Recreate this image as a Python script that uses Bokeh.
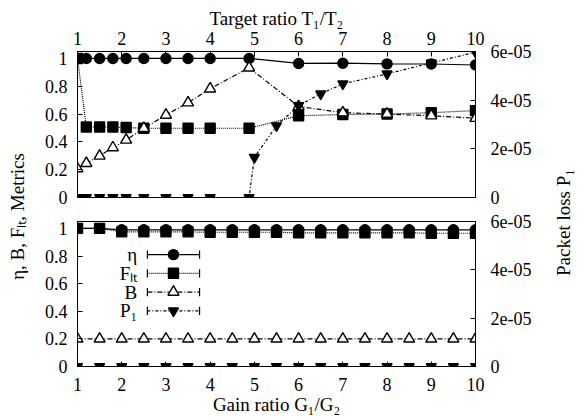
from math import pi
from bokeh.plotting import figure
from bokeh.models import Range1d, LinearAxis, FixedTicker, Label
from bokeh.layouts import row, column
from bokeh.embed import file_html
from bokeh.resources import INLINE

FONT = "Liberation Serif"
FS_TICK = "18px"
FS_LAB = "19px"

# ---------------- data ----------------
x_ticks = [1, 2, 3, 4, 5, 6, 7, 8, 9, 10]
y_ticks = [0, 0.2, 0.4, 0.6, 0.8, 1.0]
p_ticks = [0, 2e-5, 4e-5, 6e-5]

# top panel (Target ratio T1/T2)
top_x = [1, 1.2, 1.5, 1.8, 2.1, 2.5, 3, 3.5, 4, 4.88, 6, 7, 8, 9, 10]
top_eta = [1.0, 1.0, 1.0, 1.0, 1.0, 1.0, 1.0, 1.0, 1.0, 1.0, 0.964, 0.966, 0.961, 0.960, 0.953]
top_flt = [1.0, 0.507, 0.507, 0.507, 0.503, 0.498, 0.498, 0.498, 0.498, 0.498, 0.588, 0.597, 0.600, 0.610, 0.625]
top_b = [0.208, 0.246, 0.299, 0.359, 0.414, 0.498, 0.593, 0.682, 0.782, 0.933, 0.655, 0.610, 0.600, 0.588, 0.570]
top_p_x = [1, 1.2, 1.5, 1.8, 2.1, 2.5, 3, 3.5, 4, 4.88, 5, 5.5, 6, 6.5, 7, 8, 9, 10]
top_p = [0, 0, 0, 0, 0, 0, 0, 0, 0, 0, 1.65e-5, 2.95e-5, 3.78e-5, 4.26e-5, 4.67e-5, 5.08e-5, 5.53e-5, 5.97e-5]

# bottom panel (Gain ratio G1/G2)
bot_x = [1, 1.5, 2, 2.5, 3, 3.5, 4, 4.5, 5, 5.5, 6, 6.5, 7, 7.5, 8, 8.5, 9, 9.5, 10]
bot_eta = [1.0, 1.0, 0.99, 0.99, 0.99, 0.99, 0.99, 0.99, 0.99, 0.99, 0.99, 0.99, 0.99, 0.99, 0.99, 0.99, 0.99, 0.99, 0.99]
bot_flt = [1.0, 1.0, 0.975, 0.975, 0.975, 0.975, 0.972, 0.972, 0.972, 0.972, 0.968, 0.968, 0.968, 0.968, 0.968, 0.968, 0.965, 0.965, 0.965]
bot_b = [0.2] * 19
bot_p = [0.0] * 19

series_names = ["η", "Fₗₜ", "B", "P₁"]

left_labels = {0: "0", 0.2: "0.2", 0.4: "0.4", 0.6: "0.6", 0.8: "0.8", 1.0: "1"}
right_labels = {0: "0", 2e-5: "2e-05", 4e-5: "4e-05", 6e-5: "6e-05"}

STY = {
    "eta": dict(dash="solid", marker="circle", size=10, fill="black"),
    "flt": dict(dash="1 1", marker="square", size=10, fill="black"),
    "b": dict(dash="5 2 1 2", marker="triangle", size=11, fill="white"),
    "p": dict(dash="3 2 1 2", marker="inverted_triangle", size=10, fill="black"),
}


def style_axis(ax, ticks, overrides, standoff):
    ax.ticker = FixedTicker(ticks=ticks)
    if overrides:
        ax.major_label_overrides = overrides
    ax.major_tick_in = 5
    ax.major_tick_out = 0
    ax.minor_tick_in = 0
    ax.minor_tick_out = 0
    ax.major_label_standoff = standoff
    ax.major_label_text_font = FONT
    ax.major_label_text_font_size = FS_TICK
    ax.major_label_text_font_style = "normal"
    ax.major_label_text_color = "black"
    ax.axis_line_color = "black"
    ax.major_tick_line_color = "black"
    ax.axis_label_text_font = FONT
    ax.axis_label_text_font_size = FS_LAB
    ax.axis_label_text_font_style = "normal"
    ax.axis_label_text_color = "black"


def panel(frame_h, b_top, b_bottom, xloc, xlabel, xstand):
    p = figure(frame_width=398, frame_height=frame_h,
               x_range=Range1d(1, 10), y_range=Range1d(0, 1.05),
               output_backend="svg", toolbar_location=None,
               x_axis_location=xloc,
               min_border_left=47, min_border_right=70,
               min_border_top=b_top, min_border_bottom=b_bottom,
               background_fill_color="white", border_fill_color="white",
               outline_line_color="black", outline_line_width=1)
    p.extra_y_ranges = {"p": Range1d(0, 6e-5)}
    p.grid.visible = False
    style_axis(p.yaxis[0], y_ticks, left_labels, 10)
    style_axis(p.xaxis[0], x_ticks, None, xstand)
    p.xaxis[0].axis_label = xlabel
    p.xaxis[0].axis_label_standoff = 0
    r = LinearAxis(y_range_name="p")
    style_axis(r, p_ticks, right_labels, 15)
    p.add_layout(r, "right")
    return p


def draw(p, x, y, key, rname="default"):
    s = STY[key]
    p.line(x, y, line_color="black", line_width=1.2, line_dash=s["dash"], y_range_name=rname)
    p.scatter(x, y, marker=s["marker"], size=s["size"], fill_color=s["fill"],
              line_color="black", line_width=1.4, y_range_name=rname)


top = panel(146, 51, 12, "above", "Target ratio T₁/T₂", 7)
draw(top, top_x, top_eta, "eta")
draw(top, top_x, top_flt, "flt")
draw(top, top_x, top_b, "b")
draw(top, top_p_x, top_p, "p", "p")

bot = panel(145, 12, 54, "below", "Gain ratio G₁/G₂", 11)
draw(bot, bot_x, bot_eta, "eta")
draw(bot, bot_x, bot_flt, "flt")
draw(bot, bot_x, bot_b, "b")
draw(bot, bot_x, bot_p, "p")

# legend (gnuplot style: label right-aligned, then sample with caps)
leg_keys = ["eta", "flt", "b", "p"]
leg_y = [0.81, 0.675, 0.539, 0.403]
lx0, lx1, lxm, ltx = 2.58, 3.76, 3.17, 2.35
for key, name, yy in zip(leg_keys, series_names, leg_y):
    s = STY[key]
    bot.segment(x0=[lx0], y0=[yy], x1=[lx1], y1=[yy], line_color="black",
                line_width=1.2, line_dash=s["dash"])
    bot.segment(x0=[lx0, lx1], y0=[yy - 0.03, yy - 0.03], x1=[lx0, lx1], y1=[yy + 0.03, yy + 0.03],
                line_color="black", line_width=1.2)
    bot.scatter([lxm], [yy], marker=s["marker"], size=s["size"], fill_color=s["fill"],
                line_color="black", line_width=1.4)
    bot.add_layout(Label(x=ltx, y=yy, text=name, text_align="right", text_baseline="middle",
                         text_font=FONT, text_font_size=FS_LAB, text_color="black"))


def label_fig(w, text, cx, cy):
    f = figure(frame_width=w, frame_height=420, x_range=Range1d(0, w), y_range=Range1d(0, 420),
               output_backend="svg", toolbar_location=None, min_border=0,
               x_axis_location=None, y_axis_location=None, outline_line_color=None,
               background_fill_color="white", border_fill_color="white")
    f.grid.visible = False
    f.add_layout(Label(x=cx, y=420 - cy, text=text, angle=pi / 2, text_align="center",
                       text_baseline="middle", text_font=FONT, text_font_size=FS_LAB, text_color="black"))
    return f


left = label_fig(30, "η, B, Fₗₜ, Metrics", 17, 216)
right = label_fig(42, "Packet loss P₁", 18, 222)

layout = row(left, column(top, bot), right)
open("out.html", "w").write(file_html(layout, INLINE))
